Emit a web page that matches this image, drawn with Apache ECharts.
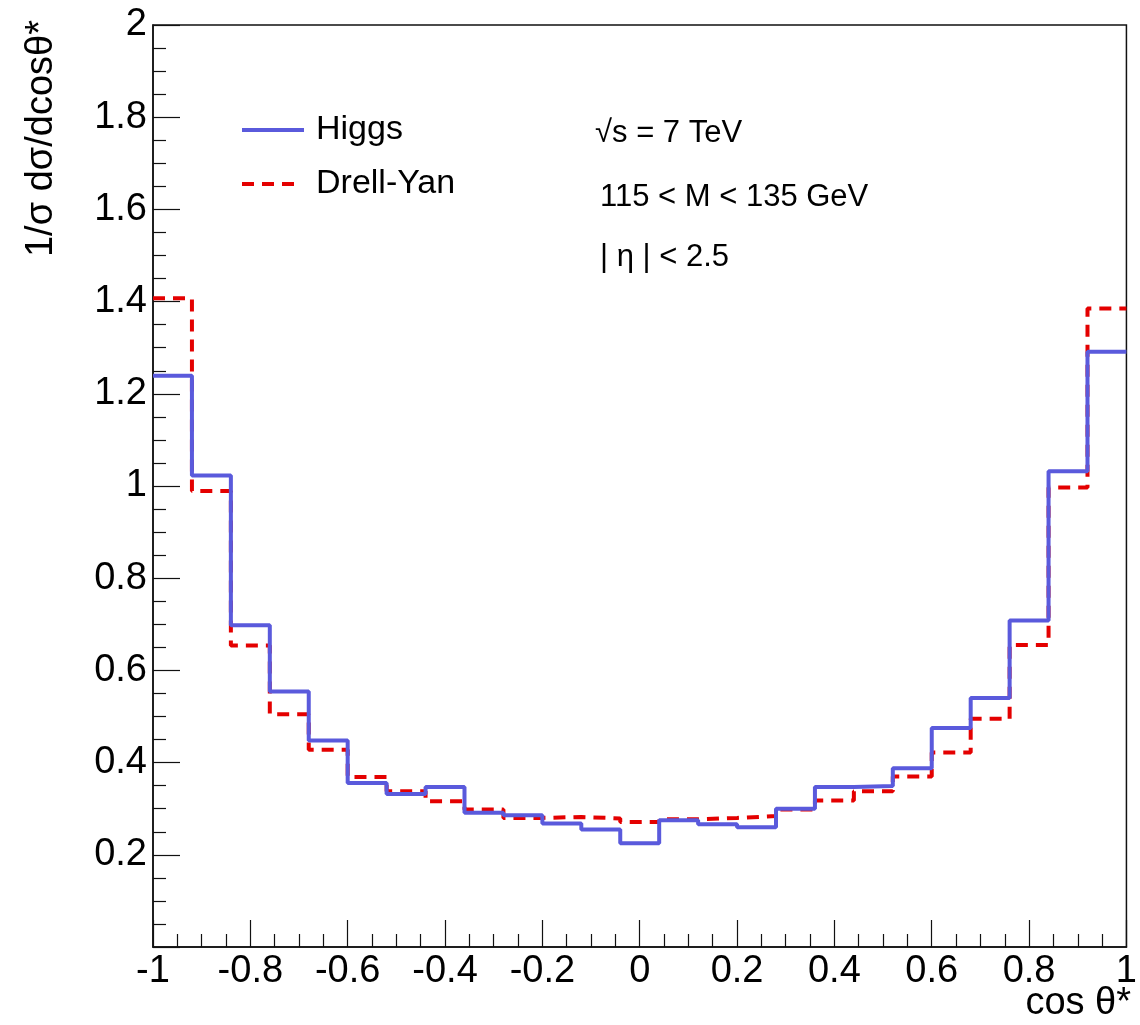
<!DOCTYPE html>
<html>
<head>
<meta charset="utf-8">
<script src="https://cdn.jsdelivr.net/npm/echarts@6/dist/echarts.min.js"></script>
<style>html,body{margin:0;padding:0;background:#fff}#c{width:1140px;height:1025px}</style>
</head>
<body>
<div id="c"></div>
<script>
// Bin low edges of cos(theta*) histogram (width 0.08), plus upper edge
const binLowEdges = [-1, -0.92, -0.84, -0.76, -0.68, -0.6, -0.52, -0.44, -0.36, -0.28, -0.2, -0.12, -0.04,
                     0.04, 0.12, 0.2, 0.28, 0.36, 0.44, 0.52, 0.6, 0.68, 0.76, 0.84, 0.92];
const upperEdge = 1;
const higgs = [1.239, 1.023, 0.698, 0.554, 0.448, 0.356, 0.332, 0.347, 0.291, 0.286, 0.268, 0.255, 0.225,
               0.275, 0.266, 0.260, 0.300, 0.347, 0.349, 0.388, 0.475, 0.540, 0.708, 1.032, 1.291];
const drellYan = [1.407, 0.989, 0.654, 0.505, 0.428, 0.369, 0.338, 0.316, 0.298, 0.280, 0.282, 0.279, 0.271,
                  0.277, 0.280, 0.284, 0.298, 0.318, 0.338, 0.370, 0.422, 0.495, 0.655, 0.997, 1.385];
const seriesNames = ['Higgs', 'Drell-Yan'];
const annotations = ['√s = 7 TeV', '115 < M < 135 GeV', '| η | < 2.5'];
const xTitle = 'cos θ*';
const yTitle = '1/σ dσ/dcosθ*';

function histData(vals) {
  const d = binLowEdges.map((e, i) => [e, vals[i]]);
  d.push([upperEdge, vals[vals.length - 1]]);
  return d;
}

const FONT = '"Liberation Sans", Arial, Helvetica, sans-serif';
const BLUE = '#5a5adc';
const RED = '#e40000';
const chart = echarts.init(document.getElementById('c'), null, {renderer: 'canvas'});
chart.setOption({
  animation: false,
  backgroundColor: '#fff',
  grid: {left: 153, right: 8, top: 25, bottom: 78, show: true, borderColor: '#111', borderWidth: 1.5, backgroundColor: 'transparent'},
  xAxis: {
    type: 'value', min: -1, max: 1, interval: 0.2,
    axisLine: {show: true, onZero: false, lineStyle: {color: '#111', width: 1.5}},
    axisTick: {show: true, inside: true, length: 27, lineStyle: {color: '#111', width: 1.2}},
    minorTick: {show: true, splitNumber: 4, length: 13, lineStyle: {color: '#111', width: 1.2}},
    splitLine: {show: false},
    axisLabel: {fontSize: 38, fontFamily: FONT, color: '#000', margin: 6, showMinLabel: true, showMaxLabel: true,
      formatter: v => String(Math.round(v * 10) / 10)}
  },
  yAxis: {
    type: 'value', min: 0, max: 2, interval: 0.2,
    axisLine: {show: true, onZero: false, lineStyle: {color: '#111', width: 1.5}},
    axisTick: {show: true, inside: true, length: 27, lineStyle: {color: '#111', width: 1.2}},
    minorTick: {show: true, splitNumber: 4, length: 13, lineStyle: {color: '#111', width: 1.2}},
    splitLine: {show: false},
    axisLabel: {fontSize: 38, fontFamily: FONT, color: '#000', margin: 6,
      formatter: v => (Math.abs(v) < 1e-9 ? '' : String(Math.round(v * 10) / 10))}
  },
  legend: {
    orient: 'vertical', left: 237, top: 108,
    itemWidth: 62, itemHeight: 4, itemGap: 20,
    textStyle: {fontSize: 34, fontFamily: FONT, color: '#000', lineHeight: 34, padding: [0, 0, 0, 7]},
    data: [
      {name: seriesNames[0], icon: 'path://M0,0h62v4h-62z', itemStyle: {color: BLUE}},
      {name: seriesNames[1], icon: 'path://M0,0h12v4h-12z M20,0h12v4h-12z M40,0h12v4h-12z M61.9,0h0.1v0.1h-0.1z', itemStyle: {color: RED}}
    ]
  },
  series: [
    {
      name: seriesNames[1], type: 'line', step: 'end', symbol: 'none', data: histData(drellYan),
      lineStyle: {color: RED, width: 4, type: [12, 8]}, itemStyle: {color: RED}, z: 2
    },
    {
      name: seriesNames[0], type: 'line', step: 'end', symbol: 'none', data: histData(higgs),
      lineStyle: {color: BLUE, width: 4}, itemStyle: {color: BLUE}, z: 3
    }
  ],
  graphic: [
    {type: 'text', x: 595, y: 133, style: {text: annotations[0], font: '31px ' + FONT, fill: '#000', verticalAlign: 'middle', align: 'left'}},
    {type: 'text', x: 600, y: 197, style: {text: annotations[1], font: '31px ' + FONT, fill: '#000', verticalAlign: 'middle', align: 'left'}},
    {type: 'text', x: 600, y: 257, style: {text: annotations[2], font: '31px ' + FONT, fill: '#000', verticalAlign: 'middle', align: 'left'}},
    {type: 'text', x: 1131, y: 1004, style: {text: xTitle, font: '38px ' + FONT, fill: '#000', verticalAlign: 'middle', align: 'right'}},
    {type: 'text', x: 42, y: 20, rotation: Math.PI / 2, style: {text: yTitle, font: '38px ' + FONT, fill: '#000', verticalAlign: 'middle', align: 'right'}}
  ]
});
</script>
</body>
</html>
